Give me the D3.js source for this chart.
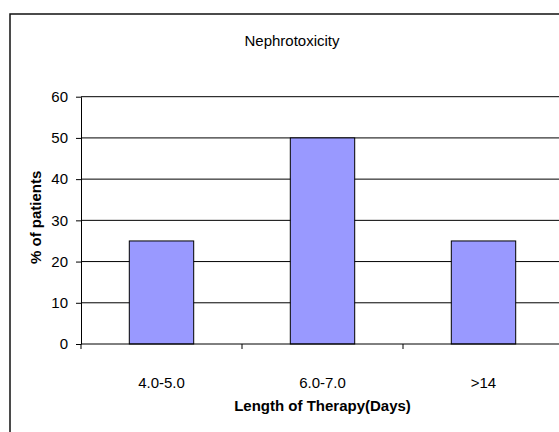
<!DOCTYPE html>
<html>
<head>
    <title>Nephrotoxicity</title>
    <script src="https://d3js.org/d3.v7.min.js"></script>
    <style>
        body { margin: 0; background: #fff; }
        svg { display: block; font-family: Arial, "Liberation Sans", sans-serif; }
    </style>
</head>
<body>
    <svg id="chart" width="559" height="432"></svg>

    <script>
        const categories = ["4.0-5.0", "6.0-7.0", ">14"];
        const patients = [25, 50, 25];
        const yTicks = [0, 10, 20, 30, 40, 50, 60];

        const svg = d3.select("#chart");
        const font = "Arial, 'Liberation Sans', sans-serif";
        const fs = "15px";

        // outer chart frame (runs off the right and bottom of the picture)
        svg.append("rect")
            .attr("x", 10).attr("y", 14)
            .attr("width", 564).attr("height", 440)
            .attr("fill", "none")
            .attr("stroke", "#111")
            .attr("stroke-width", 1.5);

        const plotL = 81, plotT = 96.7, plotR = 564, plotB = 344;

        const x = d3.scaleBand().domain(categories).range([plotL, plotR]).paddingInner(0.6).paddingOuter(0.3);
        const y = d3.scaleLinear().domain([0, 60]).range([plotB, plotT]);

        // gridlines
        svg.append("g")
            .selectAll("line")
            .data(yTicks.slice(1))
            .enter().append("line")
            .attr("x1", plotL).attr("x2", plotR)
            .attr("y1", d => y(d)).attr("y2", d => y(d))
            .attr("stroke", "#000").attr("stroke-width", 1);

        // bars
        svg.append("g")
            .selectAll("rect")
            .data(patients)
            .enter().append("rect")
            .attr("x", (d, i) => x(categories[i]))
            .attr("y", d => y(d))
            .attr("width", x.bandwidth())
            .attr("height", d => plotB - y(d))
            .attr("fill", "#9999ff")
            .attr("stroke", "#000").attr("stroke-width", 1);

        // y axis
        const yAxis = svg.append("g")
            .attr("transform", `translate(${plotL},0)`)
            .call(d3.axisLeft(y).tickValues(yTicks).tickSize(5).tickSizeOuter(0).tickPadding(8));
        yAxis.attr("font-size", null).attr("font-family", null);
        yAxis.select(".domain").attr("stroke", "#000");
        yAxis.selectAll(".tick line").attr("stroke", "#000");
        yAxis.selectAll("text")
            .style("font-size", fs).style("font-family", font)
            .attr("fill", "#000");

        // x axis: ticks sit between categories
        svg.append("line")
            .attr("x1", plotL).attr("x2", plotR)
            .attr("y1", plotB).attr("y2", plotB)
            .attr("stroke", "#000");
        svg.append("g")
            .selectAll("line")
            .data(d3.range(categories.length + 1))
            .enter().append("line")
            .attr("x1", i => plotL + i * (plotR - plotL) / categories.length)
            .attr("x2", i => plotL + i * (plotR - plotL) / categories.length)
            .attr("y1", plotB).attr("y2", plotB + 5)
            .attr("stroke", "#000");
        svg.append("g")
            .selectAll("text")
            .data(categories)
            .enter().append("text")
            .attr("x", d => x(d) + x.bandwidth() / 2)
            .attr("y", 388)
            .attr("text-anchor", "middle")
            .style("font-size", fs)
            .text(d => d);

        // titles
        svg.append("text")
            .attr("x", 292).attr("y", 46)
            .attr("text-anchor", "middle")
            .style("font-size", fs)
            .text("Nephrotoxicity");

        svg.append("text")
            .attr("x", (plotL + plotR) / 2).attr("y", 411)
            .attr("text-anchor", "middle")
            .style("font-size", fs)
            .attr("font-weight", "bold")
            .text("Length of Therapy(Days)");

        svg.append("text")
            .attr("transform", `translate(41,${(plotT + plotB) / 2 - 3}) rotate(-90)`)
            .attr("text-anchor", "middle")
            .style("font-size", fs)
            .attr("font-weight", "bold")
            .text("% of patients");
    </script>
</body>
</html>
